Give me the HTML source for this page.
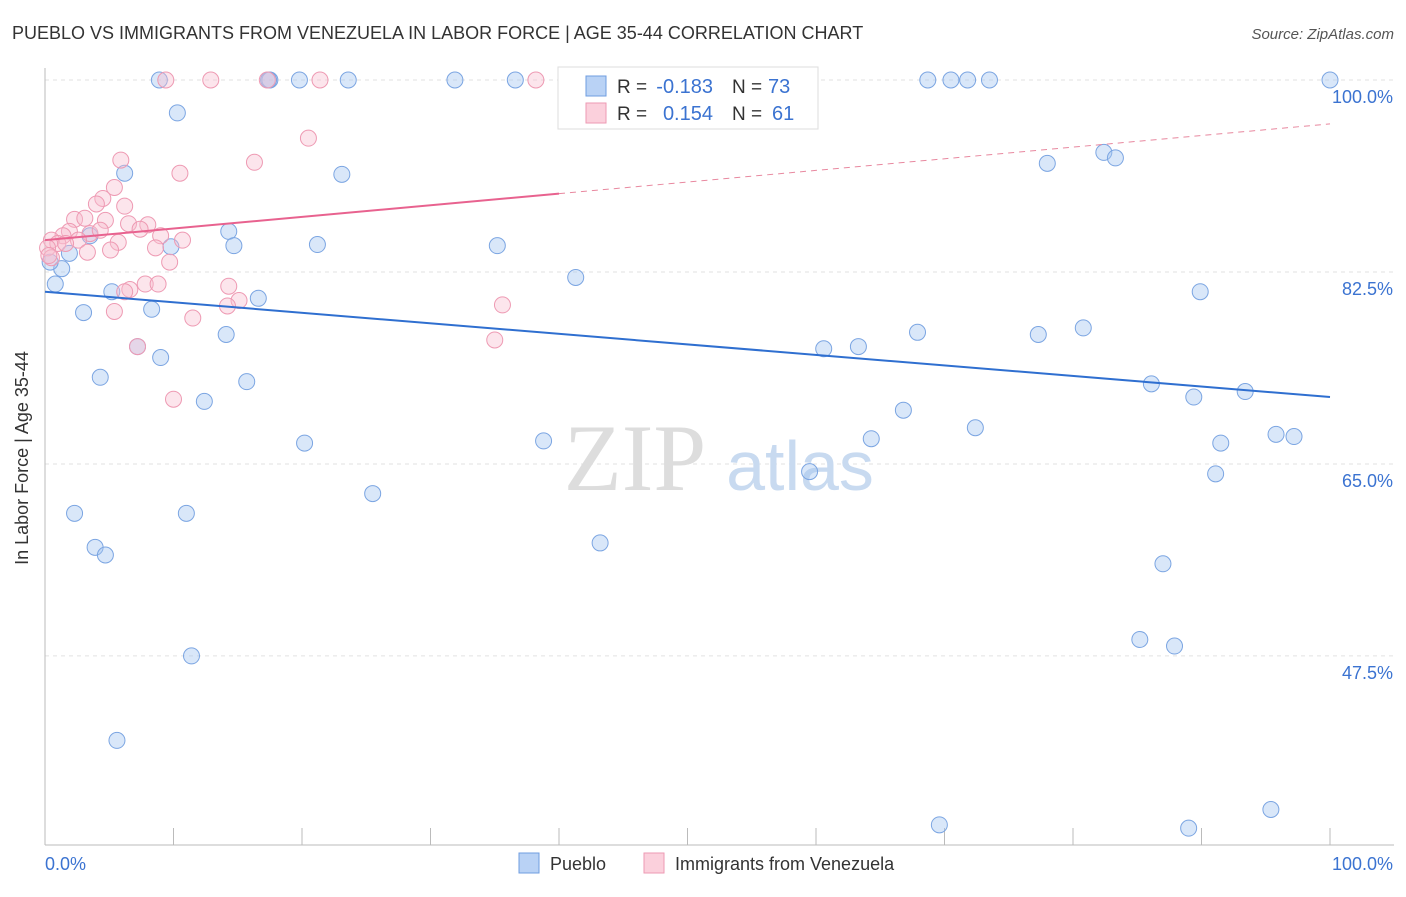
<!DOCTYPE html>
<html><head><meta charset="utf-8"><style>
body{margin:0;background:#fff;font-family:"Liberation Sans",sans-serif;}
</style></head><body>
<svg width="1406" height="892" xmlns="http://www.w3.org/2000/svg" font-family="Liberation Sans, sans-serif">
<text x="12" y="39" font-size="18" fill="#333">PUEBLO VS IMMIGRANTS FROM VENEZUELA IN LABOR FORCE | AGE 35-44 CORRELATION CHART</text>
<text x="1394" y="39" font-size="15" fill="#555" font-style="italic" text-anchor="end">Source: ZipAtlas.com</text>
<g id="grid"></g>
<text x="635" y="490" font-size="95" fill="#ddd" text-anchor="middle" font-family="Liberation Serif, serif">ZIP</text>
<text x="800" y="490" font-size="70" fill="#c8daf0" text-anchor="middle">atlas</text>
<line x1="45" y1="68" x2="45" y2="845" stroke="#bbb"/>
<line x1="45" y1="845" x2="1394" y2="845" stroke="#bbb"/>
<g id="pts"></g>
<g id="trends"></g>
<text x="28" y="458" font-size="18" fill="#333" text-anchor="middle" transform="rotate(-90 28 458)">In Labor Force | Age 35-44</text>
<text x="45" y="870" font-size="18" fill="#3b73d1">0.0%</text>
<text x="1393" y="870" font-size="18" fill="#3b73d1" text-anchor="end">100.0%</text>
<g>
<rect x="558" y="67" width="260" height="62" fill="#fff" stroke="#ddd"/>
<rect x="586" y="76" width="20" height="20" fill="#b9d2f5" stroke="#6f9de0"/>
<rect x="586" y="103" width="20" height="20" fill="#fbd0dc" stroke="#ee9ab3"/>
<text x="617" y="93" font-size="19" fill="#333">R =</text>
<text x="713" y="93" font-size="20" fill="#3b73d1" text-anchor="end">-0.183</text>
<text x="732" y="93" font-size="19" fill="#333">N =</text>
<text x="768" y="93" font-size="20" fill="#3b73d1">73</text>
<text x="617" y="120" font-size="19" fill="#333">R =</text>
<text x="713" y="120" font-size="20" fill="#3b73d1" text-anchor="end">0.154</text>
<text x="732" y="120" font-size="19" fill="#333">N =</text>
<text x="772" y="120" font-size="20" fill="#3b73d1">61</text>
</g>
<g>
<rect x="519" y="853" width="20" height="20" fill="#b9d2f5" stroke="#6f9de0"/>
<text x="550" y="870" font-size="18" fill="#333">Pueblo</text>
<rect x="644" y="853" width="20" height="20" fill="#fbd0dc" stroke="#ee9ab3"/>
<text x="675" y="870" font-size="18" fill="#333">Immigrants from Venezuela</text>
</g>
</svg>
<script>
const yTicks=[100,82.5,65,47.5];
const xTicks=[0,10,20,30,40,50,60,70,80,90,100];
const bluePx=[[160,80],[270,80],[268,80],[300,80],[348,80],[455,80],[515,80],[632,80],[928,80],[951,80],[968,80],[989,80],[1330,80],[177,113],[125,173],[342,174],[1047,163],[1104,152],[1116,158],[229,231],[171,247],[234,246],[318,245],[497,246],[90,236],[70,253],[62,269],[50,262],[55,284],[576,278],[112,292],[258,298],[1200,292],[83,313],[152,309],[226,335],[137,347],[161,357],[824,349],[859,347],[918,332],[1038,334],[1083,328],[100,377],[247,382],[1151,384],[1194,397],[1245,391],[204,401],[903,410],[975,428],[305,443],[543,441],[871,439],[1221,443],[1276,434],[1294,436],[810,472],[1215,474],[373,494],[74,513],[186,513],[95,547],[106,555],[600,543],[1163,564],[1140,640],[1174,646],[192,656],[117,740],[939,825],[1189,828],[1271,810]];
const pinkPx=[[166,80],[211,80],[267,80],[320,80],[536,80],[309,138],[121,160],[180,173],[254,162],[115,187],[103,199],[125,206],[97,204],[75,219],[85,218],[105,220],[128,224],[148,225],[140,229],[70,231],[90,234],[63,236],[52,240],[58,244],[48,248],[78,240],[100,230],[118,242],[161,236],[182,240],[155,248],[110,250],[88,252],[52,258],[170,262],[130,290],[125,292],[145,284],[158,284],[229,286],[239,300],[227,306],[114,312],[193,318],[502,305],[138,347],[495,340],[174,399],[49,256],[65,243]];
const blueX=bluePx.map(p=>+((p[0]-45)/12.85).toFixed(1));
const blueY=bluePx.map(p=>+(100-(p[1]-80)/10.97).toFixed(1));
const pinkX=pinkPx.map(p=>+((p[0]-45)/12.85).toFixed(1));
const pinkY=pinkPx.map(p=>+(100-(p[1]-80)/10.97).toFixed(1));
const blueTrend=[80.7,71.1];
const pinkTrend=[85.4,96.0];
const sx=v=>45+v*12.85, sy=v=>80+(100-v)*10.97;
const NS='http://www.w3.org/2000/svg';
function mk(t,a,parent){const e=document.createElementNS(NS,t);for(const k in a)e.setAttribute(k,a[k]);parent.appendChild(e);return e;}
const grid=document.getElementById('grid');
yTicks.forEach(v=>{
 const l=mk('line',{x1:45,x2:1394,y1:sy(v),y2:sy(v),stroke:'#e2e2e2','stroke-dasharray':'4,4'},grid);
 
 
 const t=mk('text',{x:1393,y:sy(v)+23,'font-size':18,fill:'#3b73d1','text-anchor':'end'},grid);
 t.textContent=v.toFixed(1)+'%';
 
 
});
xTicks.forEach(v=>{
 const l=mk('line',{x1:sx(v),x2:sx(v),y1:828,y2:845,stroke:'#bbb'},grid);
 
 
});
const pts=document.getElementById('pts');
blueX.forEach((x,i)=>{
 const c=mk('circle',{cx:sx(x),cy:sy(blueY[i]),r:8,fill:'rgba(160,195,240,0.4)',stroke:'#7ba5e2','stroke-width':1},pts);
 
 
});
pinkX.forEach((x,i)=>{
 const c=mk('circle',{cx:sx(x),cy:sy(pinkY[i]),r:8,fill:'rgba(248,190,208,0.4)',stroke:'#ee9ab3','stroke-width':1},pts);
 
 
});
const tr=document.getElementById('trends');
const b=mk('line',{x1:sx(0),y1:sy(blueTrend[0]),x2:sx(100),y2:sy(blueTrend[1]),stroke:'#2f6fd0','stroke-width':2},tr);


const pm=pinkTrend[0]+(pinkTrend[1]-pinkTrend[0])*0.4;
const p1=mk('line',{x1:sx(0),y1:sy(pinkTrend[0]),x2:sx(40),y2:sy(pm),stroke:'#e8628f','stroke-width':2},tr);


const p2=mk('line',{x1:sx(40),y1:sy(pm),x2:sx(100),y2:sy(pinkTrend[1]),stroke:'#e8889f','stroke-width':1,'stroke-dasharray':'6,5'},tr);


</script>
</body></html>
